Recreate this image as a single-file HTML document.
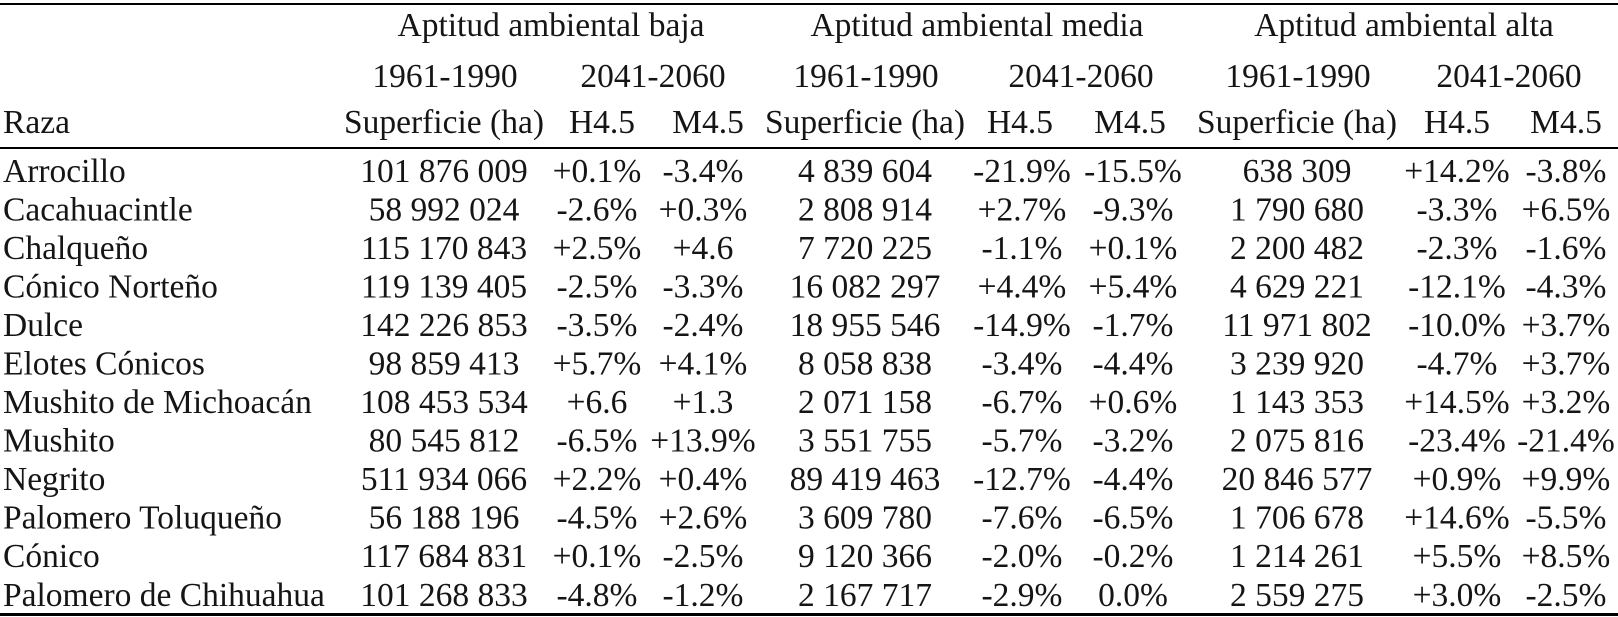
<!DOCTYPE html>
<html><head><meta charset="utf-8"><style>
html,body{margin:0;padding:0;background:#fff;}
svg{display:block;}
text{font-family:"Liberation Serif","DejaVu Serif",serif;font-size:33.5px;fill:#151515;}
.c{text-anchor:middle;}
</style></head><body>
<svg width="1618" height="617" viewBox="0 0 1618 617" xmlns="http://www.w3.org/2000/svg">
<rect x="0" y="3" width="1618" height="2" fill="#000"/>
<rect x="0" y="147" width="1618" height="2" fill="#000"/>
<rect x="0" y="613" width="1618" height="3" fill="#000"/>

<text class="c" x="551" y="36">Aptitud ambiental baja</text>
<text class="c" x="977" y="36">Aptitud ambiental media</text>
<text class="c" x="1404" y="36">Aptitud ambiental alta</text>

<text class="c" x="445" y="87">1961-1990</text>
<text class="c" x="653" y="87">2041-2060</text>
<text class="c" x="866" y="87">1961-1990</text>
<text class="c" x="1081" y="87">2041-2060</text>
<text class="c" x="1298" y="87">1961-1990</text>
<text class="c" x="1509" y="87">2041-2060</text>

<text x="3" y="133">Raza</text>
<text class="c" x="444" y="133">Superficie (ha)</text>
<text class="c" x="602" y="133">H4.5</text>
<text class="c" x="708" y="133">M4.5</text>
<text class="c" x="865" y="133">Superficie (ha)</text>
<text class="c" x="1020" y="133">H4.5</text>
<text class="c" x="1130" y="133">M4.5</text>
<text class="c" x="1297" y="133">Superficie (ha)</text>
<text class="c" x="1457" y="133">H4.5</text>
<text class="c" x="1566" y="133">M4.5</text>

<g id="rows">
<text x="3" y="182">Arrocillo</text><text class="c" x="444" y="182">101 876 009</text><text class="c" x="597" y="182">+0.1%</text><text class="c" x="703" y="182">-3.4%</text><text class="c" x="865" y="182">4 839 604</text><text class="c" x="1022" y="182">-21.9%</text><text class="c" x="1133" y="182">-15.5%</text><text class="c" x="1297" y="182">638 309</text><text class="c" x="1457" y="182">+14.2%</text><text class="c" x="1566" y="182">-3.8%</text>

<text x="3" y="220.5">Cacahuacintle</text><text class="c" x="444" y="220.5">58 992 024</text><text class="c" x="597" y="220.5">-2.6%</text><text class="c" x="703" y="220.5">+0.3%</text><text class="c" x="865" y="220.5">2 808 914</text><text class="c" x="1022" y="220.5">+2.7%</text><text class="c" x="1133" y="220.5">-9.3%</text><text class="c" x="1297" y="220.5">1 790 680</text><text class="c" x="1457" y="220.5">-3.3%</text><text class="c" x="1566" y="220.5">+6.5%</text>

<text x="3" y="259">Chalqueño</text><text class="c" x="444" y="259">115 170 843</text><text class="c" x="597" y="259">+2.5%</text><text class="c" x="703" y="259">+4.6</text><text class="c" x="865" y="259">7 720 225</text><text class="c" x="1022" y="259">-1.1%</text><text class="c" x="1133" y="259">+0.1%</text><text class="c" x="1297" y="259">2 200 482</text><text class="c" x="1457" y="259">-2.3%</text><text class="c" x="1566" y="259">-1.6%</text>

<text x="3" y="297.5">Cónico Norteño</text><text class="c" x="444" y="297.5">119 139 405</text><text class="c" x="597" y="297.5">-2.5%</text><text class="c" x="703" y="297.5">-3.3%</text><text class="c" x="865" y="297.5">16 082 297</text><text class="c" x="1022" y="297.5">+4.4%</text><text class="c" x="1133" y="297.5">+5.4%</text><text class="c" x="1297" y="297.5">4 629 221</text><text class="c" x="1457" y="297.5">-12.1%</text><text class="c" x="1566" y="297.5">-4.3%</text>

<text x="3" y="336">Dulce</text><text class="c" x="444" y="336">142 226 853</text><text class="c" x="597" y="336">-3.5%</text><text class="c" x="703" y="336">-2.4%</text><text class="c" x="865" y="336">18 955 546</text><text class="c" x="1022" y="336">-14.9%</text><text class="c" x="1133" y="336">-1.7%</text><text class="c" x="1297" y="336">11 971 802</text><text class="c" x="1457" y="336">-10.0%</text><text class="c" x="1566" y="336">+3.7%</text>

<text x="3" y="374.5">Elotes Cónicos</text><text class="c" x="444" y="374.5">98 859 413</text><text class="c" x="597" y="374.5">+5.7%</text><text class="c" x="703" y="374.5">+4.1%</text><text class="c" x="865" y="374.5">8 058 838</text><text class="c" x="1022" y="374.5">-3.4%</text><text class="c" x="1133" y="374.5">-4.4%</text><text class="c" x="1297" y="374.5">3 239 920</text><text class="c" x="1457" y="374.5">-4.7%</text><text class="c" x="1566" y="374.5">+3.7%</text>

<text x="3" y="413">Mushito de Michoacán</text><text class="c" x="444" y="413">108 453 534</text><text class="c" x="597" y="413">+6.6</text><text class="c" x="703" y="413">+1.3</text><text class="c" x="865" y="413">2 071 158</text><text class="c" x="1022" y="413">-6.7%</text><text class="c" x="1133" y="413">+0.6%</text><text class="c" x="1297" y="413">1 143 353</text><text class="c" x="1457" y="413">+14.5%</text><text class="c" x="1566" y="413">+3.2%</text>

<text x="3" y="451.5">Mushito</text><text class="c" x="444" y="451.5">80 545 812</text><text class="c" x="597" y="451.5">-6.5%</text><text class="c" x="703" y="451.5">+13.9%</text><text class="c" x="865" y="451.5">3 551 755</text><text class="c" x="1022" y="451.5">-5.7%</text><text class="c" x="1133" y="451.5">-3.2%</text><text class="c" x="1297" y="451.5">2 075 816</text><text class="c" x="1457" y="451.5">-23.4%</text><text class="c" x="1566" y="451.5">-21.4%</text>

<text x="3" y="490">Negrito</text><text class="c" x="444" y="490">511 934 066</text><text class="c" x="597" y="490">+2.2%</text><text class="c" x="703" y="490">+0.4%</text><text class="c" x="865" y="490">89 419 463</text><text class="c" x="1022" y="490">-12.7%</text><text class="c" x="1133" y="490">-4.4%</text><text class="c" x="1297" y="490">20 846 577</text><text class="c" x="1457" y="490">+0.9%</text><text class="c" x="1566" y="490">+9.9%</text>

<text x="3" y="528.5">Palomero Toluqueño</text><text class="c" x="444" y="528.5">56 188 196</text><text class="c" x="597" y="528.5">-4.5%</text><text class="c" x="703" y="528.5">+2.6%</text><text class="c" x="865" y="528.5">3 609 780</text><text class="c" x="1022" y="528.5">-7.6%</text><text class="c" x="1133" y="528.5">-6.5%</text><text class="c" x="1297" y="528.5">1 706 678</text><text class="c" x="1457" y="528.5">+14.6%</text><text class="c" x="1566" y="528.5">-5.5%</text>

<text x="3" y="567">Cónico</text><text class="c" x="444" y="567">117 684 831</text><text class="c" x="597" y="567">+0.1%</text><text class="c" x="703" y="567">-2.5%</text><text class="c" x="865" y="567">9 120 366</text><text class="c" x="1022" y="567">-2.0%</text><text class="c" x="1133" y="567">-0.2%</text><text class="c" x="1297" y="567">1 214 261</text><text class="c" x="1457" y="567">+5.5%</text><text class="c" x="1566" y="567">+8.5%</text>

<text x="3" y="606">Palomero de Chihuahua</text><text class="c" x="444" y="606">101 268 833</text><text class="c" x="597" y="606">-4.8%</text><text class="c" x="703" y="606">-1.2%</text><text class="c" x="865" y="606">2 167 717</text><text class="c" x="1022" y="606">-2.9%</text><text class="c" x="1133" y="606">0.0%</text><text class="c" x="1297" y="606">2 559 275</text><text class="c" x="1457" y="606">+3.0%</text><text class="c" x="1566" y="606">-2.5%</text>
</g>
</svg>
</body></html>
